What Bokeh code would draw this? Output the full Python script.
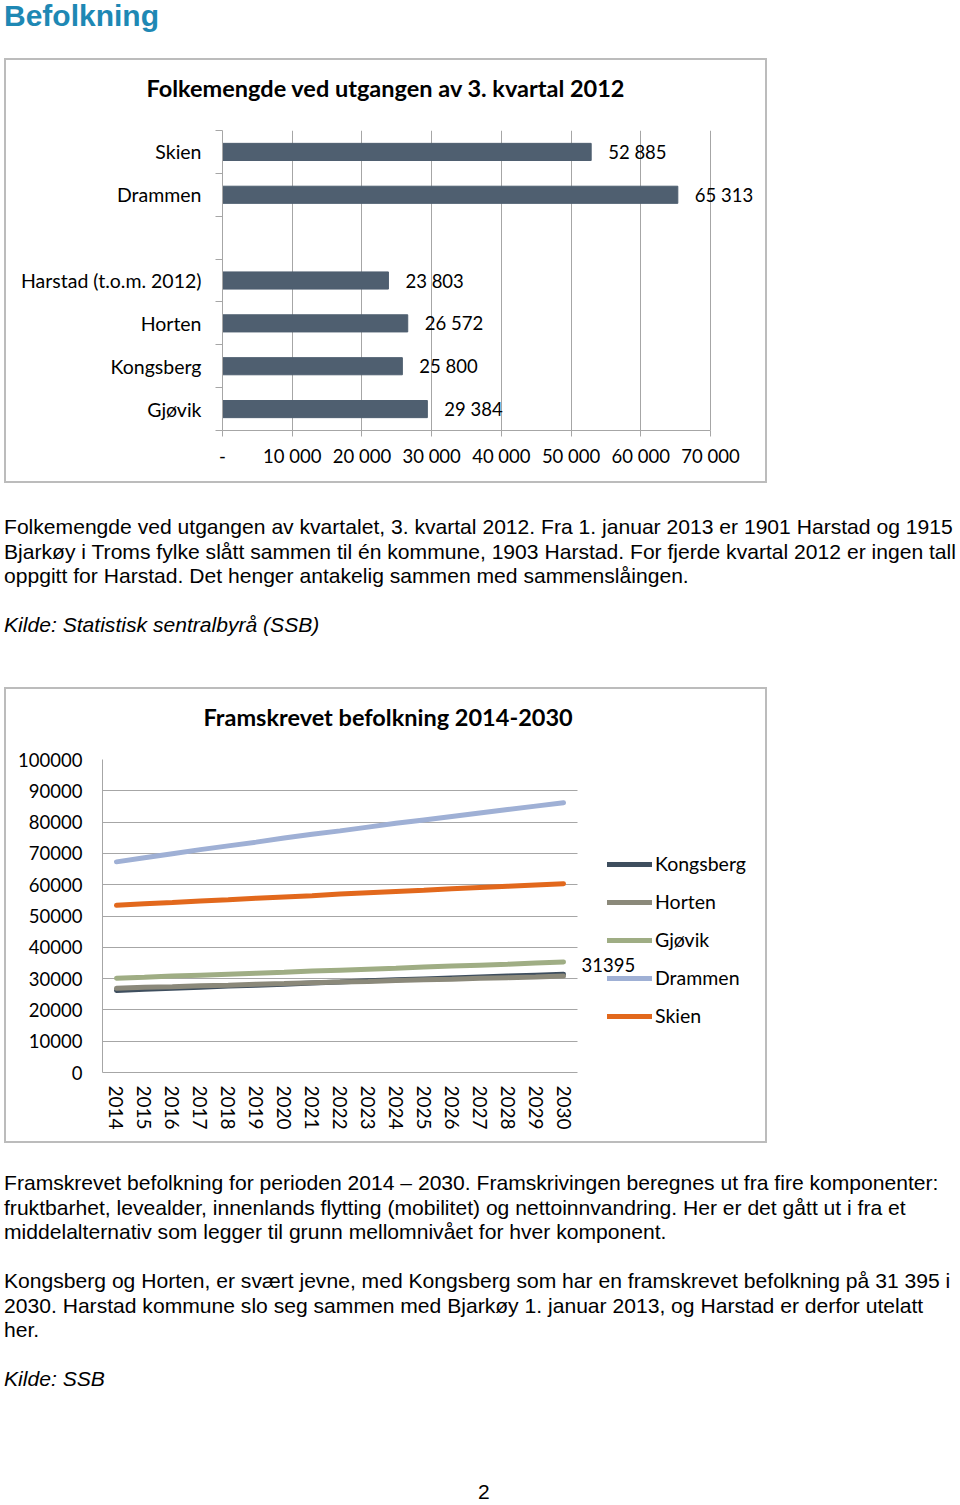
from bokeh.plotting import figure
from bokeh.models import (Range1d, FixedTicker, Div, Legend, LegendItem, Title,
                          ColumnDataSource, BasicTickFormatter, Label, BoxAnnotation)
from bokeh.layouts import column
from bokeh.core.properties import value
from bokeh.embed import file_html
from bokeh.resources import INLINE

# ---------------- data: bar chart ----------------
bar_title = "Folkemengde ved utgangen av 3. kvartal 2012"
# rows from bottom to top ("" = empty slot in the chart)
bar_rows = ["Gjøvik", "Kongsberg", "Horten", "Harstad (t.o.m. 2012)", "", "Drammen", "Skien"]
bar_values = [29384, 25800, 26572, 23803, None, 65313, 52885]
bar_x_ticks = [0, 10000, 20000, 30000, 40000, 50000, 60000, 70000]
bar_x_tick_labels = ["-", "10 000", "20 000", "30 000", "40 000", "50 000", "60 000", "70 000"]

# ---------------- data: line chart ----------------
line_title = "Framskrevet befolkning 2014-2030"
years = [2014, 2015, 2016, 2017, 2018, 2019, 2020, 2021, 2022,
         2023, 2024, 2025, 2026, 2027, 2028, 2029, 2030]
kongsberg = [26200, 26600, 26900, 27200, 27600, 27900, 28200, 28600, 28900,
             29300, 29600, 29900, 30200, 30500, 30800, 31100, 31395]
horten = [26900, 27200, 27400, 27700, 27900, 28200, 28400, 28700, 28900,
          29100, 29400, 29600, 29800, 30100, 30300, 30500, 30800]
gjovik = [30100, 30400, 30800, 31100, 31400, 31700, 32000, 32400, 32700,
          33000, 33300, 33700, 34000, 34300, 34600, 35000, 35300]
drammen = [67300, 68600, 69900, 71200, 72400, 73600, 74900, 76100, 77200,
           78400, 79600, 80700, 81800, 82900, 84000, 85100, 86200]
skien = [53400, 53900, 54300, 54800, 55200, 55700, 56100, 56500, 57000,
         57400, 57800, 58200, 58700, 59100, 59500, 59900, 60300]
series_names = ["Kongsberg", "Horten", "Gjøvik", "Drammen", "Skien"]
series_values = [kongsberg, horten, gjovik, drammen, skien]
series_colors = ["#3e4e5e", "#8b897a", "#9fad84", "#9fb0d5", "#e2681c"]
line_y_ticks = [0, 10000, 20000, 30000, 40000, 50000, 60000, 70000, 80000, 90000, 100000]

# ---------------- texts ----------------
page_title = "Befolkning"
para1_lines = [
    "Folkemengde ved utgangen av kvartalet, 3. kvartal 2012. Fra 1. januar 2013 er 1901 Harstad og 1915",
    "Bjarkøy i Troms fylke slått sammen til én kommune, 1903 Harstad. For fjerde kvartal 2012 er ingen tall",
    "oppgitt for Harstad. Det henger antakelig sammen med sammenslåingen.",
]
kilde1 = "Kilde: Statistisk sentralbyrå (SSB)"
para2_lines = [
    "Framskrevet befolkning for perioden 2014 – 2030. Framskrivingen beregnes ut fra fire komponenter:",
    "fruktbarhet, levealder, innenlands flytting (mobilitet) og nettoinnvandring. Her er det gått ut i fra et",
    "middelalternativ som legger til grunn mellomnivået for hver komponent.",
]
para3_lines = [
    "Kongsberg og Horten, er svært jevne, med Kongsberg som har en framskrevet befolkning på 31 395 i",
    "2030. Harstad kommune slo seg sammen med Bjarkøy 1. januar 2013, og Harstad er derfor utelatt",
    "her.",
]
kilde2 = "Kilde: SSB"
page_number = "2"

CAL = "Lato"
ARIAL = "'Liberation Sans', Arial, sans-serif"
GRID = "#a6a6a6"
BORDER = "2px solid #bcbcbc"
NUM_FS = "18.5px"
CAT_FS = "19.5px"


def add_titles(p, text, offset):
    # spacer first (nearest the frame), then the chart title above it
    p.add_layout(Title(text=" ", text_font_size="1px", standoff=15), "above")
    p.add_layout(Title(text=text, text_font=CAL, text_font_size="23.5px", text_font_style="bold",
                       align="left", offset=offset, standoff=22, text_color="black"), "above")


# ---------------- bar chart ----------------
# frame: 488 px for 0..70000, extended to the box edge (543 px) so the value labels fit
x_max = 70000 * 543 / 488
pos = [i + 1 for i in range(len(bar_rows))]
b_pos = [p for p, v in zip(pos, bar_values) if v is not None]
b_val = [v for v in bar_values if v is not None]
b_lab = [f"{v:,}".replace(",", " ") for v in b_val]

p1 = figure(width=763, height=425, x_range=Range1d(0, x_max), y_range=Range1d(0.5, 7.5),
            output_backend="svg", toolbar_location=None, frame_align=False,
            min_border_left=216, min_border_right=4, min_border_top=70, min_border_bottom=55,
            outline_line_color=None, background_fill_color="white", border_fill_color="white",
            margin=(0, 0, 0, 4), styles={"border": BORDER})
add_titles(p1, bar_title, -76)

src1 = ColumnDataSource(dict(y=b_pos, right=b_val, lab=b_lab))
p1.hbar(y="y", left=0, right="right", height=0.4, source=src1, color="#4f5f70")
p1.text(x="right", y="y", text="lab", source=src1, x_offset=17, text_baseline="middle",
        text_align="left", text_font=value(CAL), text_font_size=NUM_FS, text_color="black")

p1.xaxis.ticker = FixedTicker(ticks=bar_x_ticks)
p1.xaxis.bounds = (bar_x_ticks[0], bar_x_ticks[-1])
p1.xaxis.major_label_overrides = dict(zip(bar_x_ticks, bar_x_tick_labels))
p1.xaxis.major_tick_out = 6
p1.xaxis.major_tick_in = 0
p1.xaxis.minor_tick_out = 0
p1.xaxis.major_tick_line_color = GRID
p1.xaxis.axis_line_color = GRID
p1.xaxis.major_label_standoff = 8
p1.xaxis.major_label_text_font = CAL
p1.xaxis.major_label_text_font_size = NUM_FS
p1.xaxis.major_label_text_color = "black"

lab_pos = [p for p, r in zip(pos, bar_rows) if r]
p1.yaxis.ticker = FixedTicker(ticks=lab_pos, minor_ticks=[p - 0.5 for p in pos] + [pos[-1] + 0.5])
p1.yaxis.major_label_overrides = {p: r for p, r in zip(pos, bar_rows) if r}
p1.yaxis.major_tick_out = 0
p1.yaxis.major_tick_in = 0
p1.yaxis.minor_tick_out = 7
p1.yaxis.minor_tick_in = 0
p1.yaxis.minor_tick_line_color = GRID
p1.yaxis.axis_line_color = GRID
p1.yaxis.major_label_standoff = 14
p1.yaxis.major_label_text_font = CAL
p1.yaxis.major_label_text_font_size = CAT_FS
p1.yaxis.major_label_text_color = "black"
p1.xgrid.grid_line_color = GRID
p1.ygrid.visible = False

# ---------------- line chart ----------------
# 17 year slots over 475 px; frame extended to the box edge (663 px) for legend and label
x_end = years[0] - 0.5 + 663 * len(years) / 475
p2 = figure(width=763, height=456, x_range=Range1d(years[0] - 0.5, x_end),
            y_range=Range1d(0, 100000),
            output_backend="svg", toolbar_location=None, frame_align=False,
            min_border_left=96, min_border_right=4, min_border_top=70, min_border_bottom=73,
            outline_line_color=None, background_fill_color="white", border_fill_color="white",
            margin=(0, 0, 0, 4), styles={"border": BORDER})
add_titles(p2, line_title, 101)

p2.ygrid.grid_line_color = GRID
p2.xgrid.visible = False
# grid lines stop at the end of the category axis
p2.add_layout(BoxAnnotation(left=years[-1] + 0.5, fill_color="white", fill_alpha=1,
                            line_alpha=0, level="underlay"))

items = []
for name, vals, col in zip(series_names, series_values, series_colors):
    r = p2.line(x=years, y=vals, line_width=5, line_color=col, line_cap="round")
    items.append(LegendItem(label=name, renderers=[r]))

p2.add_layout(Label(x=years[-1], y=kongsberg[-1], text=str(kongsberg[-1]),
                    x_offset=18, y_offset=9, text_baseline="middle", text_align="left",
                    text_font=CAL, text_font_size=NUM_FS, text_color="black"))

legend = Legend(items=items, location=(505, 45), orientation="vertical",
                glyph_width=45, glyph_height=20, label_height=20, label_standoff=3,
                spacing=15, padding=0, margin=0, border_line_color=None,
                background_fill_alpha=0, label_text_font=CAL, label_text_font_size=CAT_FS,
                label_text_color="black")
p2.add_layout(legend)

p2.yaxis.ticker = FixedTicker(ticks=line_y_ticks)
p2.yaxis.formatter = BasicTickFormatter(use_scientific=False)
p2.yaxis.major_tick_out = 0
p2.yaxis.major_tick_in = 0
p2.yaxis.minor_tick_out = 0
p2.yaxis.axis_line_color = GRID
p2.yaxis.major_label_standoff = 20
p2.yaxis.major_label_text_font = CAL
p2.yaxis.major_label_text_font_size = NUM_FS
p2.yaxis.major_label_text_color = "black"
p2.xaxis.ticker = FixedTicker(ticks=years)
p2.xaxis.bounds = (years[0] - 0.5, years[-1] + 0.5)
p2.xaxis.formatter = BasicTickFormatter(use_scientific=False)
p2.xaxis.major_tick_out = 0
p2.xaxis.major_tick_in = 0
p2.xaxis.minor_tick_out = 0
p2.xaxis.axis_line_color = GRID
p2.xaxis.major_label_orientation = "vertical"
p2.xaxis.major_label_standoff = 13
p2.xaxis.major_label_text_font = CAL
p2.xaxis.major_label_text_font_size = "19px"
p2.xaxis.major_label_text_color = "black"

# ---------------- text blocks ----------------
P = (f"font-family:{ARIAL};font-size:21.1px;line-height:24.5px;color:#000;"
     "white-space:nowrap;padding-left:4px;")

div_title = Div(text=(f'<div style="font-family:{ARIAL};font-weight:bold;font-size:30px;'
                      f'line-height:32px;color:#1e88b4;padding-left:4px;">{page_title}</div>'),
                width=956, height=58, margin=0)

div_p1 = Div(text=(f'<div style="{P}padding-top:32px;">' + "<br>".join(para1_lines) +
                   f'<br><br><i>{kilde1}</i></div>'),
             width=956, height=204, margin=0)

div_p2 = Div(text=(f'<div style="position:relative;height:352px;">'
                   f'<div style="{P}padding-top:28px;">' + "<br>".join(para2_lines) + "<br><br>" +
                   "<br>".join(para3_lines) + f'<br><br><i>{kilde2}</i></div>'
                   f'<div style="position:absolute;left:478px;top:337px;font-family:{ARIAL};'
                   f'font-size:21px;line-height:24.5px;">{page_number}</div></div>'),
             width=956, height=352, margin=0)

layout = column(div_title, p1, div_p1, p2, div_p2, spacing=0)

open("out.html", "w").write(file_html(layout, INLINE))
